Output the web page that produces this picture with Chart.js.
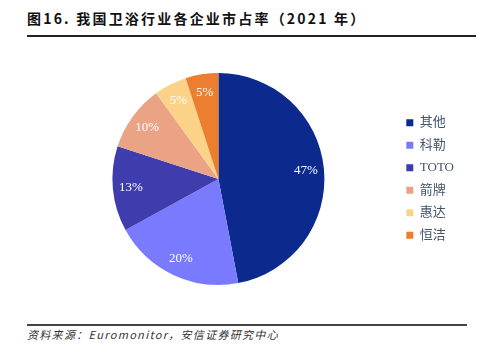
<!DOCTYPE html>
<html>
<head>
<meta charset="utf-8"/>
<title>卫浴市占率</title>
<script src="https://cdn.jsdelivr.net/npm/chart.js"></script>
<style>
    body { margin: 0; background: #fff; width: 483px; height: 353px; position: relative; overflow: hidden; }
    .title { position: absolute; left: 27px; top: 8px; font-family: "Noto Sans CJK SC", sans-serif; font-weight: bold; font-size: 14px; letter-spacing: 2.2px; color: #111; }
    .top-line { position: absolute; left: 27px; top: 35px; width: 449px; height: 2px; background: #222; }
    .bottom-line { position: absolute; left: 27px; top: 324px; width: 440px; height: 2px; background: #444; }
    .source { position: absolute; left: 27px; top: 326px; font-family: "Noto Sans CJK SC", sans-serif; font-style: italic; font-size: 11px; letter-spacing: 1.3px; color: #333; }
    #box { position: absolute; left: 27px; top: 40px; width: 450px; height: 282px; }
</style>
</head>
<body>
<div class="title">图16. 我国卫浴行业各企业市占率（2021 年）</div>
<div class="top-line"></div>
<div id="box"><canvas id="pie"></canvas></div>
<div class="bottom-line"></div>
<div class="source">资料来源：Euromonitor，安信证券研究中心</div>

<script>
    // data, clockwise from the top
    const companies = ['其他', '科勒', 'TOTO', '箭牌', '惠达', '恒洁'];
    const shares = [47, 20, 13, 10, 5, 5];
    const colors = ['#0C2A8E', '#7A7AFF', '#3F3DAD', '#EBA385', '#FBD388', '#EB7E2F'];

    // white percent labels inside each slice
    const sliceLabels = {
        id: 'sliceLabels',
        afterDatasetsDraw(chart) {
            const ctx = chart.ctx;
            const meta = chart.getDatasetMeta(0);
            ctx.save();
            ctx.fillStyle = '#fff';
            ctx.font = '13px "Liberation Serif", serif';
            ctx.textAlign = 'center';
            ctx.textBaseline = 'middle';
            meta.data.forEach((arc, i) => {
                const mid = (arc.startAngle + arc.endAngle) / 2;
                const r = arc.outerRadius * 0.83;
                ctx.fillText(shares[i] + '%', arc.x + Math.cos(mid) * r, arc.y + Math.sin(mid) * r);
            });
            ctx.restore();
        }
    };

    new Chart(document.getElementById('pie'), {
        type: 'pie',
        data: {
            labels: companies,
            datasets: [{
                data: shares,
                backgroundColor: colors,
                borderWidth: 0
            }]
        },
        options: {
            responsive: true,
            maintainAspectRatio: false,
            animation: false,
            layout: { padding: { left: 13, right: 13, top: 33, bottom: 37 } },
            plugins: {
                tooltip: { enabled: false },
                legend: {
                    position: 'right',
                    labels: {
                        boxWidth: 7,
                        boxHeight: 7,
                        padding: 9.5,
                        color: '#44546A',
                        font: { family: '"Liberation Serif", "Noto Sans CJK SC", serif', size: 13 }
                    }
                }
            }
        },
        plugins: [sliceLabels]
    });
</script>
</body>
</html>
